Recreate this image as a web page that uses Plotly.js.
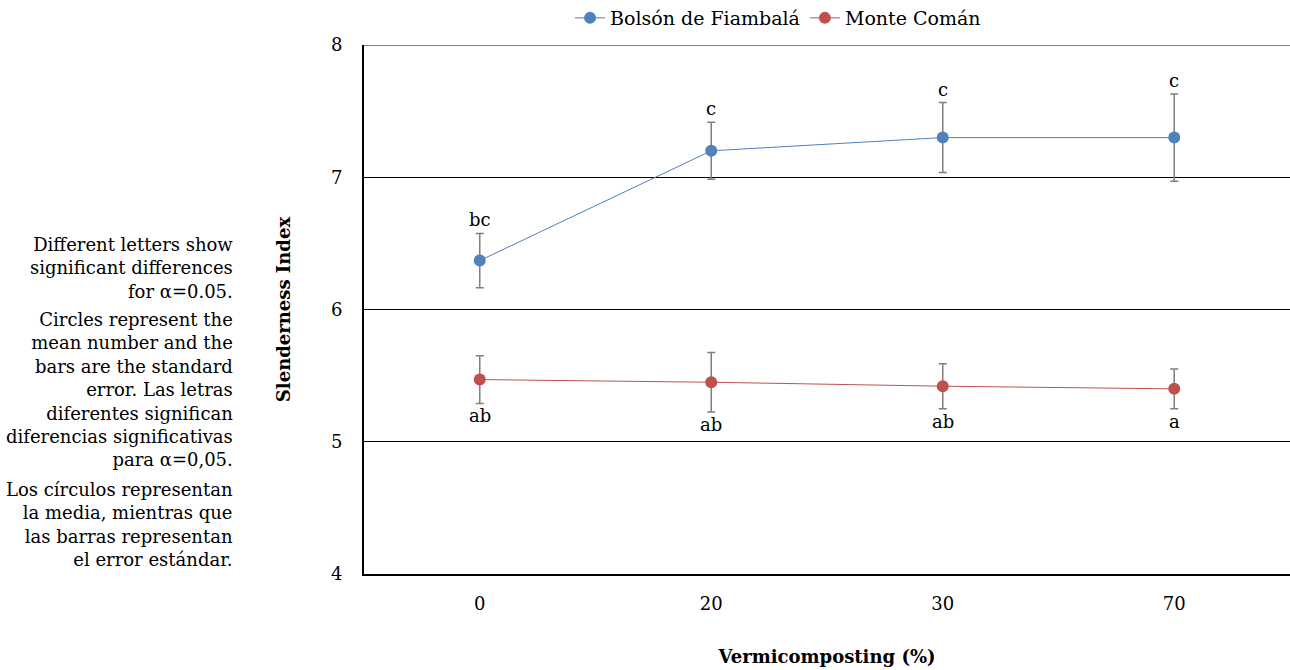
<!DOCTYPE html>
<html>
<head>
<meta charset="utf-8">
<script src="https://cdn.plot.ly/plotly-3.0.1.min.js"></script>
<style>html,body{margin:0;padding:0;background:#fff;}#chart{width:1290px;height:670px;}</style>
</head>
<body>
<div id="chart"></div>
<script>
const categories = ["0", "20", "30", "70"];
const bolsonMean = [6.37, 7.20, 7.30, 7.30];
const bolsonErr = [0.205, 0.215, 0.265, 0.33];
const bolsonLetters = ["bc", "c", "c", "c"];
const monteMean = [5.47, 5.45, 5.42, 5.40];
const monteErr = [0.18, 0.225, 0.17, 0.15];
const monteLetters = ["ab", "ab", "ab", "a"];
const yTicks = [4, 5, 6, 7, 8];
const noteParagraphs = [
  "Different letters show<br>significant differences<br>for α=0.05.",
  "Circles represent the<br>mean number and the<br>bars are the standard<br>error. Las letras<br>diferentes significan<br>diferencias significativas<br>para α=0,05.",
  "Los círculos representan<br>la media, mientras que<br>las barras representan<br>el error estándar."
];

const FONT = "DejaVu Serif, serif";

const traces = [
  {
    x: categories, y: bolsonMean, name: "Bolsón de Fiambalá", type: "scatter", mode: "lines+markers",
    line: {color: "#4f81bd", width: 1},
    marker: {color: "#4f81bd", size: 12},
    error_y: {type: "data", array: bolsonErr, visible: true, color: "#7f7f7f", thickness: 1.5, width: 4}
  },
  {
    x: categories, y: monteMean, name: "Monte Comán", type: "scatter", mode: "lines+markers",
    line: {color: "#c0504d", width: 1},
    marker: {color: "#c0504d", size: 12},
    error_y: {type: "data", array: monteErr, visible: true, color: "#7f7f7f", thickness: 1.5, width: 4}
  }
];

const annotations = [];
categories.forEach((c, i) => {
  annotations.push({x: i, y: bolsonMean[i] + bolsonErr[i], xref: "x", yref: "y", text: bolsonLetters[i],
    showarrow: false, yanchor: "bottom", yshift: 1, font: {family: FONT, size: 18, color: "#000"}});
  annotations.push({x: i, y: monteMean[i] - monteErr[i], xref: "x", yref: "y", text: monteLetters[i],
    showarrow: false, yanchor: "top", yshift: 0, font: {family: FONT, size: 18, color: "#000"}});
});
const noteTops = [0.6446, 0.5028, 0.1815];
noteParagraphs.forEach((t, i) => {
  annotations.push({
    xref: "paper", yref: "paper", x: -0.1405, y: noteTops[i], xanchor: "right", yanchor: "top", align: "right",
    showarrow: false, font: {family: FONT, size: 18, color: "#000"}, text: t, borderpad: 0
  });
});

const layout = {
  width: 1290, height: 670,
  margin: {l: 364, r: 0, t: 45, b: 96, autoexpand: false},
  paper_bgcolor: "#fff", plot_bgcolor: "#fff",
  font: {family: FONT, size: 18, color: "#000"},
  showlegend: true,
  legend: {orientation: "h", x: 0.2225, xanchor: "left", y: 1.051, yanchor: "middle", font: {family: FONT, size: 19}},
  xaxis: {
    type: "category", range: [-0.5, 3.5], showgrid: false, showline: true, linecolor: "#000", linewidth: 2,
    ticks: "", tickfont: {family: FONT, size: 18}, ticklabelstandoff: 12,
    title: {text: "<b>Vermicomposting (%)</b>", font: {family: FONT, size: 18}, standoff: 38}
  },
  yaxis: {
    range: [4, 8], tickvals: yTicks, showgrid: true, gridcolor: "#000", gridwidth: 1,
    showline: true, linecolor: "#000", linewidth: 2, ticks: "", zeroline: false,
    tickfont: {family: FONT, size: 18}, ticklabelstandoff: 16,
    title: {text: "<b>Slenderness Index</b>", font: {family: FONT, size: 18}, standoff: 36}
  },
  shapes: [{type: "line", xref: "paper", x0: 0, x1: 1, yref: "y", y0: yTicks[yTicks.length - 1], y1: yTicks[yTicks.length - 1],
    line: {color: "#000", width: 1}}],
  annotations: annotations
};

Plotly.newPlot("chart", traces, layout, {displayModeBar: false, staticPlot: true});
</script>
</body>
</html>
